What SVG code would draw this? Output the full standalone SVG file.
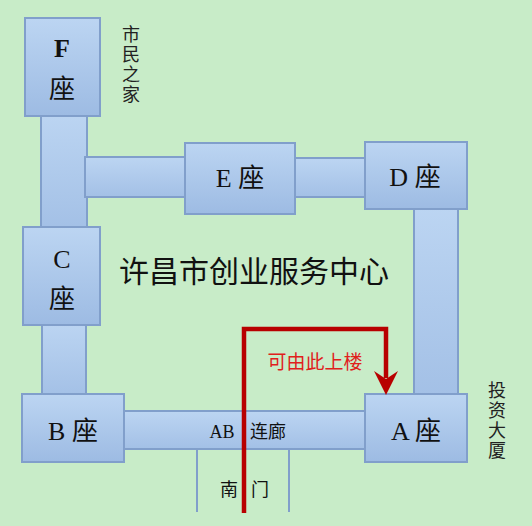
<svg xmlns="http://www.w3.org/2000/svg" width="532" height="526" viewBox="0 0 532 526">
<defs>
<linearGradient id="g" x1="0" y1="0" x2="0" y2="1">
<stop offset="0" stop-color="#bcd5f2"/>
<stop offset="1" stop-color="#9dbbe3"/>
</linearGradient>
<linearGradient id="gh" x1="0" y1="0" x2="0" y2="1">
<stop offset="0" stop-color="#bcd5f2"/>
<stop offset="1" stop-color="#a3c0e6"/>
</linearGradient>
</defs>
<style>
.box{fill:url(#g);stroke:#819fcb;stroke-width:2}
.cor{fill:url(#gh);stroke:#819fcb;stroke-width:2}
.lbl{font-family:"Liberation Serif","Noto Sans CJK SC",serif;font-size:26px;fill:#111;text-anchor:middle}
.side{font-family:"Noto Sans CJK SC",sans-serif;font-size:18px;fill:#222;writing-mode:vertical-rl;letter-spacing:2px}
.sm{font-family:"Liberation Serif","Noto Sans CJK SC",serif;font-size:18px;fill:#111;text-anchor:middle}
.door{stroke:#819fcb;stroke-width:2;fill:none}
</style>
<rect width="532" height="526" fill="#c8ecc8"/>
<g id="connectors">
<rect class="cor" x="41" y="112" width="46" height="118"/>
<rect class="cor" x="42" y="322" width="44" height="75"/>
<rect class="cor" x="414" y="206" width="44" height="191"/>
<rect class="cor" x="85" y="157" width="102" height="40"/>
<rect class="cor" x="293" y="158" width="74" height="39"/>
<line class="door" x1="197" y1="449" x2="197" y2="512"/>
<line class="door" x1="289" y1="449" x2="289" y2="512"/>
</g>
<g id="ab">
<rect class="cor" x="122" y="411" width="245" height="38"/>
<text class="sm" x="222" y="438">AB</text>
<text class="sm" x="268" y="438">连廊</text>
</g>
<g id="F">
<rect class="box" x="25" y="18" width="75" height="98"/>
<text class="lbl" x="62" y="57" font-weight="bold">F</text>
<text class="lbl" x="62" y="98">座</text>
</g>
<g id="E">
<rect class="box" x="185" y="143" width="110" height="71"/>
<text class="lbl" x="240" y="187">E 座</text>
</g>
<g id="D">
<rect class="box" x="365" y="142" width="102" height="67"/>
<text class="lbl" x="415" y="186">D 座</text>
</g>
<g id="C">
<rect class="box" x="23" y="227" width="77" height="98"/>
<text class="lbl" x="62" y="268">C</text>
<text class="lbl" x="62" y="308">座</text>
</g>
<g id="B">
<rect class="box" x="22" y="394" width="102" height="68"/>
<text class="lbl" x="73" y="440">B 座</text>
</g>
<g id="A">
<rect class="box" x="365" y="394" width="102" height="68"/>
<text class="lbl" x="416" y="440">A 座</text>
</g>
<g id="labels">
<text class="side" x="131" y="25">市民之家</text>
<text class="side" x="497" y="381">投资大厦</text>
<text x="254" y="282" font-family="Noto Sans CJK SC,sans-serif" font-size="30" fill="#111" text-anchor="middle">许昌市创业服务中心</text>
<text x="315" y="369" font-family="Noto Sans CJK SC,sans-serif" font-size="19" fill="#e0201c" text-anchor="middle">可由此上楼</text>
<text class="sm" x="229" y="496" fill="#222">南</text>
<text class="sm" x="260" y="496" fill="#222">门</text>
</g>
<g id="route">
<polyline points="244,513 244,329 386,329 386,378" fill="none" stroke="#b80000" stroke-width="4.5"/>
<polygon points="374,371 386,379 398,371 386,395" fill="#b80000"/>
</g>
</svg>
